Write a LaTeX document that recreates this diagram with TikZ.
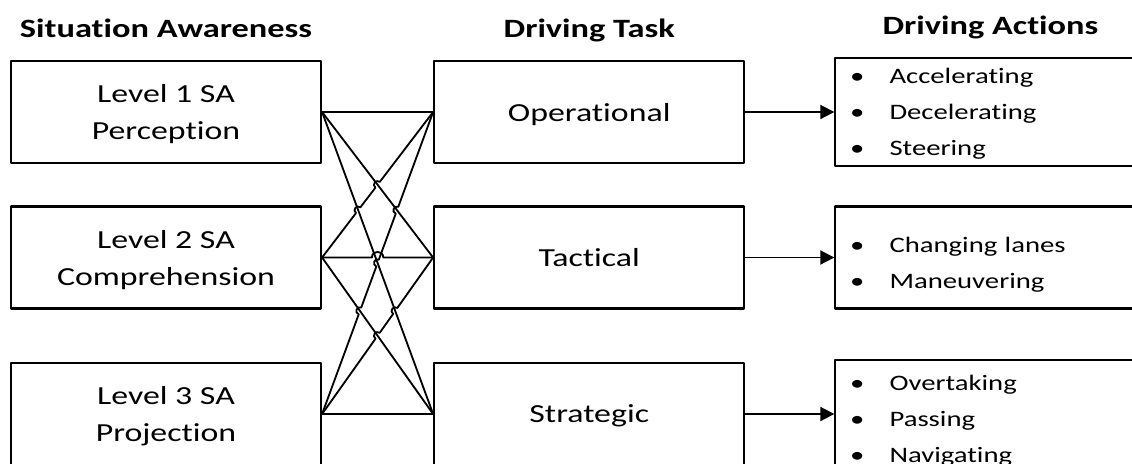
\documentclass[tikz,border=0pt]{standalone}
\usepackage{fontspec}
\setmainfont{Carlito}[FakeStretch=1.3, Ligatures=NoCommon]
\usetikzlibrary{arrows.meta,positioning,calc,intersections}
\newcommand{\jr}{2.6pt}
\newcommand{\bul}{\textbullet &}
\newcommand{\actlist}[2][0pt]{\raisebox{-#1}[\height][\depth]{\begin{tabular}{@{\hspace{10.5pt}}p{28pt}@{}l@{}}#2\end{tabular}}}

\tikzset{
  level/.style={draw, line width=1.5pt, minimum width=7.75cm, minimum height=2.55cm,
    inner sep=0pt, align=center, font=\fontsize{18.5}{26.3}\selectfont, text depth=-4.5pt},
  task/.style={level, text depth=0pt},
  acts/.style={draw, line width=1.5pt, minimum height=2.55cm, text width=7.75cm,
    inner sep=0pt, align=left, font=\fontsize{15.7}{25.5}\selectfont},
  head/.style={font=\bfseries\fontsize{18.8}{22}\selectfont, inner sep=0pt, text depth=0pt},
  link/.style={line width=1.3pt},
  linejump/.style={bend left=90, looseness=1.7},
}

\begin{document}
\begin{tikzpicture}[x=0.025cm,y=-0.025cm,line join=round,>={Triangle[length=10pt,width=10pt]}]
\useasboundingbox (0,0) rectangle (1132,463);
% situation awareness
\node[level] (l1) at (166,112) {Level 1 SA\\Perception};
\node[level] (l2) at (166,257.5) {Level 2 SA\\Comprehension};
\node[level] (l3) at (166,414) {Level 3 SA\\Projection};
% driving task
\node[task, right=2.775cm of l1] (m1) {Operational};
\node[task, right=2.775cm of l2] (m2) {Tactical};
\node[task, right=2.775cm of l3] (m3) {Strategic};
% driving actions
\node[acts, right=2.225cm of m1] (r1) {\actlist{\bul Accelerating\\ \bul Decelerating\\ \bul Steering}};
\node[acts, right=2.225cm of m2] (r2) {\actlist[4pt]{\bul Changing lanes\\ \bul Maneuvering}};
\node[acts, right=2.225cm of m3] (r3) {\actlist[4pt]{\bul Overtaking\\ \bul Passing\\ \bul Navigating}};
% headings
\node[head, above=16pt of l1] (h1) {Situation Awareness};
\node[head, above=16pt of m1] (h2) {Driving Task};
\node[head, above=16pt of r1] (h3) {Driving Actions};

% crossings
\path[name path=s12] (l1.east) -- (m2.west);
\path[name path=s13] (l1.east) -- (m3.west);
\path[name path=s21] (l2.east) -- (m1.west);
\path[name path=s22] (l2.east) -- (m2.west);
\path[name path=s23] (l2.east) -- (m3.west);
\path[name path=s31] (l3.east) -- (m1.west);
\path[name path=s32] (l3.east) -- (m2.west);
\path[name intersections={of=s21 and s13, by=k1}];
\path[name intersections={of=s21 and s12, by=k2}];
\path[name intersections={of=s31 and s23, by=k3}];
\path[name intersections={of=s31 and s13, by=k4}];
\path[name intersections={of=s31 and s12, by=k5}];
\path[name intersections={of=s32 and s23, by=k6}];
\path[name intersections={of=s32 and s13, by=k7}];
\path[name intersections={of=s22 and s13, by=k8}];
\path[name intersections={of=s22 and s31, by=k9}];

\draw[link] (l1.east) -- (m1.west);
\draw[link] (l1.east) -- (m2.west);
\draw[link] (l1.east) -- (m3.west);
\draw[link] (l2.east) -- ($(k1)!\jr!(l2.east)$) to[linejump] ($(k1)!\jr!(m1.west)$)
  -- ($(k2)!\jr!(l2.east)$) to[linejump] ($(k2)!\jr!(m1.west)$) -- (m1.west);
\draw[link] (l2.east) -- ($(k8)!\jr!(l2.east)$) to[linejump] ($(k9)!\jr!(m2.west)$) -- (m2.west);
\draw[link] (l2.east) -- (m3.west);
\draw[link] (l3.east) -- ($(k3)!\jr!(l3.east)$) to[linejump] ($(k3)!\jr!(m1.west)$)
  -- ($(k4)!\jr!(l3.east)$) to[linejump] ($(k4)!\jr!(m1.west)$)
  -- ($(k5)!\jr!(l3.east)$) to[linejump] ($(k5)!\jr!(m1.west)$) -- (m1.west);
\draw[link] (l3.east) -- ($(k6)!\jr!(l3.east)$) to[linejump] ($(k6)!\jr!(m2.west)$)
  -- ($(k7)!\jr!(l3.east)$) to[linejump] ($(k7)!\jr!(m2.west)$) -- (m2.west);
\draw[link] (l3.east) -- (m3.west);

% task to actions
\draw[link,->] (m1.east) -- (r1.west);
\draw[link,->] (m2.east) -- (r2.west);
\draw[link,->] (m3.east) -- (r3.west);
\end{tikzpicture}
\end{document}
